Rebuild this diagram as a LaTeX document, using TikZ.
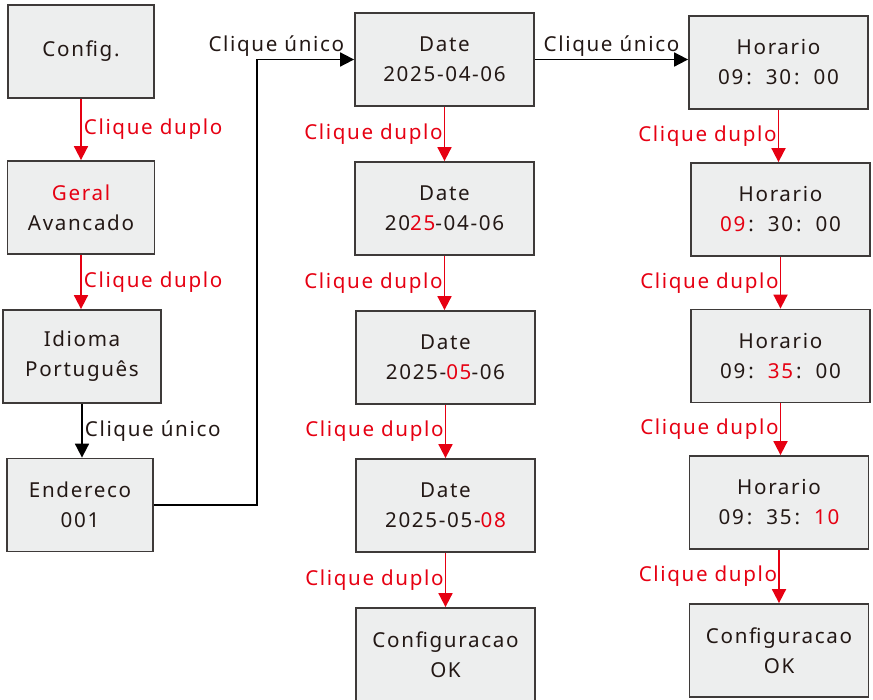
\documentclass[tikz,border=0pt]{standalone}
\usepackage{fontspec}
\setmainfont{Noto Sans}[LetterSpace=8]
\usetikzlibrary{arrows.meta}
\definecolor{myred}{HTML}{E60012}
\definecolor{boxfill}{HTML}{EDEEEE}
\definecolor{boxline}{HTML}{3E3A39}
\definecolor{txt}{HTML}{231815}
\newcommand\tcl{\hspace{3pt}:\hspace{14pt}}
\newcommand\rd[1]{\textcolor{myred}{#1}}
\begin{document}
\begin{tikzpicture}[x=1pt,y=-1pt,
 box/.style={draw=boxline, fill=boxfill, line width=1.8pt, minimum height=93pt, minimum width=179pt, inner sep=0pt, align=center, text=txt, font=\fontsize{20.6}{30}\selectfont},
 redarr/.style={draw=myred, line width=1.8pt, -{Triangle[length=14pt,width=14pt]}},
 blkarr/.style={draw=black, line width=1.8pt, -{Triangle[length=14pt,width=14pt]}},
 lbl/.style={font=\fontsize{20.6}{24}\selectfont, inner sep=2pt},
 rlbl/.style={lbl, text=myred},
 blbl/.style={lbl, text=txt}
]
\useasboundingbox (0,0) rectangle (873,699);
% column 1
\node[box, minimum width=146pt] (cfg) at (81,51.5) {Config.};
\node[box, minimum width=147pt] (geral) at (81,207.5) {\rd{Geral}\\Avancado};
\node[box, minimum width=158pt] (idioma) at (82,356.5) {Idioma\\Português};
\node[box, minimum width=146pt] (ender) at (80,505) {Endereco\\001};
% column 2
\node[box] (d1) at (444.5,59.5) {Date\\2025-04-06};
\node[box] (d2) at (444.5,208.5) {Date\\20\rd{25}-04-06};
\node[box] (d3) at (445.5,357.5) {Date\\2025-\rd{05}-06};
\node[box] (d4) at (445.5,505.5) {Date\\2025-05-\rd{08}};
\node[box] (ok2) at (445.5,654.5) {Configuracao\\OK};
% column 3
\node[box] (h1) at (778.5,62.5) {Horario\\09\tcl 30\tcl 00};
\node[box] (h2) at (780.5,209.5) {Horario\\\rd{09}\tcl 30\tcl 00};
\node[box] (h3) at (780.5,356) {Horario\\09\tcl \rd{35}\tcl 00};
\node[box] (h4) at (779,502.5) {Horario\\09\tcl 35\tcl \rd{10}};
\node[box] (ok3) at (779,650.5) {Configuracao\\OK};
% column 1 connectors
\draw[redarr] (cfg.south) -- node[rlbl, right] {Clique duplo} (cfg.south |- geral.north);
\draw[redarr] (geral.south) -- node[rlbl, right] {Clique duplo} (geral.south |- idioma.north);
\draw[blkarr] (idioma.south) -- node[blbl, right] {Clique único} (idioma.south |- ender.north);
\draw[blkarr] (ender.east) -- ++(103,0) |- node[blbl, pos=0.6, above] {Clique único} (d1.west);
% column 2 connectors
\draw[redarr] (d1.south) -- node[rlbl, left, inner sep=1pt] {Clique duplo} (d1.south |- d2.north);
\draw[redarr] (d2.south) -- node[rlbl, left, inner sep=1pt] {Clique duplo} (d2.south |- d3.north);
\draw[redarr] (d3.south) -- node[rlbl, left, inner sep=1pt] {Clique duplo} (d3.south |- d4.north);
\draw[redarr] (d4.south) -- node[rlbl, left, inner sep=1pt] {Clique duplo} (d4.south |- ok2.north);
% to column 3
\draw[blkarr] (d1.east) -- node[blbl, above] {Clique único} (d1.east -| h1.west);
% column 3 connectors
\draw[redarr] (h1.south) -- node[rlbl, left, inner sep=1pt] {Clique duplo} (h1.south |- h2.north);
\draw[redarr] (h2.south) -- node[rlbl, left, inner sep=1pt] {Clique duplo} (h2.south |- h3.north);
\draw[redarr] (h3.south) -- node[rlbl, left, inner sep=1pt] {Clique duplo} (h3.south |- h4.north);
\draw[redarr] (h4.south) -- node[rlbl, left, inner sep=1pt] {Clique duplo} (h4.south |- ok3.north);
\end{tikzpicture}
\end{document}
